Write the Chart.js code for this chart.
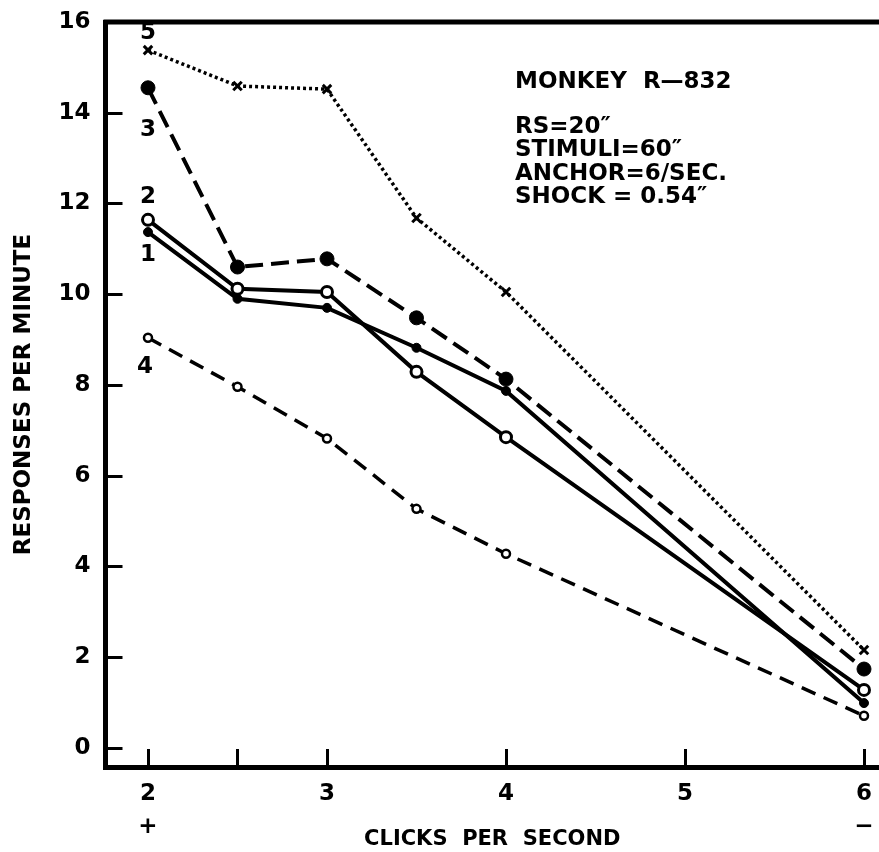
<!DOCTYPE html>
<html>
<head>
<meta charset="utf-8">
<title>Monkey R-832</title>
<script src="https://cdn.jsdelivr.net/npm/chart.js@4.4.1/dist/chart.umd.min.js"></script>
<style>
  html, body { margin: 0; padding: 0; background: #fff; }
  canvas { display: block; }
</style>
</head>
<body>
<canvas id="lineChart" width="879" height="852"></canvas>
<script>
const clicks = [2, 2.5, 3, 3.5, 4, 6];
const curve1 = [11.37, 9.9, 9.7, 8.82, 7.87, 0.99];
const curve2 = [11.64, 10.12, 10.05, 8.29, 6.85, 1.28];
const curve3 = [14.55, 10.6, 10.78, 9.48, 8.13, 1.74];
const curve4 = [9.04, 7.96, 6.82, 5.27, 4.28, 0.71];
const curve5 = [15.38, 14.59, 14.52, 11.68, 10.05, 2.16];

const yTicks = [0, 2, 4, 6, 8, 10, 12, 14, 16];
const xTicks = [2, 3, 4, 5, 6];
const xMarks = [2, 2.5, 3, 4, 5, 6];
const notes = ['RS=20″', 'STIMULI=60″', 'ANCHOR=6/SEC.', 'SHOCK = 0.54″'];

const FONT = "'DejaVu Sans', sans-serif";
const pts = ys => ys.map((y, i) => ({ x: clicks[i], y }));

// number written next to the first point of each curve
const tagOffsets = { '5': [0, -17], '3': [0, 42], '2': [0, -23], '1': [0, 23], '4': [-3, 29] };

const frame = {
  id: 'frame',
  afterDatasetsDraw(chart) {
    const { ctx, chartArea: a, scales: { x, y } } = chart;
    ctx.save();
    ctx.strokeStyle = '#000';
    ctx.fillStyle = '#000';

    // heavy top rule
    ctx.lineWidth = 5;
    ctx.beginPath();
    ctx.moveTo(a.left - 2, a.top);
    ctx.lineTo(chart.width, a.top);
    ctx.stroke();

    // ticks point inward
    ctx.lineWidth = 3;
    ctx.beginPath();
    yTicks.forEach(v => {
      const py = Math.round(y.getPixelForValue(v)) + 0.5;
      ctx.moveTo(a.left, py);
      ctx.lineTo(a.left + 17, py);
    });
    xMarks.forEach(v => {
      const px = Math.round(x.getPixelForValue(v)) + 0.5;
      ctx.moveTo(px, a.bottom);
      ctx.lineTo(px, a.bottom - 18);
    });
    ctx.stroke();

    ctx.font = 'bold 23px ' + FONT;
    ctx.textAlign = 'center';
    ctx.textBaseline = 'middle';
    chart.data.datasets.forEach((ds, i) => {
      const p = chart.getDatasetMeta(i).data[0];
      const [dx, dy] = tagOffsets[ds.label];
      ctx.fillText(ds.label, p.x + dx, p.y + dy);
    });

    ctx.textAlign = 'left';
    ctx.fillText('MONKEY  R—832', 515, 82);
    notes.forEach((t, i) => ctx.fillText(t, 515, 127 + i * 23.5));
    ctx.restore();
  }
};

new Chart(document.getElementById('lineChart'), {
  type: 'line',
  data: {
    datasets: [
      {
        label: '5',
        data: pts(curve5),
        borderColor: '#000',
        borderWidth: 3.5,
        borderDash: [3, 3],
        pointStyle: 'crossRot',
        pointRadius: 6,
        pointBorderWidth: 3,
        pointBorderColor: '#000',
      },
      {
        label: '3',
        data: pts(curve3),
        borderColor: '#000',
        borderWidth: 4,
        borderDash: [18, 8],
        pointRadius: 7,
        pointBorderWidth: 1,
        pointBorderColor: '#000',
        pointBackgroundColor: '#000',
      },
      {
        label: '2',
        data: pts(curve2),
        borderColor: '#000',
        borderWidth: 4,
        pointRadius: 5.5,
        pointBorderWidth: 3,
        pointBorderColor: '#000',
        pointBackgroundColor: '#fff',
      },
      {
        label: '1',
        data: pts(curve1),
        borderColor: '#000',
        borderWidth: 4,
        pointRadius: 4.5,
        pointBorderWidth: 1,
        pointBorderColor: '#000',
        pointBackgroundColor: '#000',
      },
      {
        label: '4',
        data: pts(curve4),
        borderColor: '#000',
        borderWidth: 3.5,
        borderDash: [15, 9],
        pointRadius: 4,
        pointBorderWidth: 2.5,
        pointBorderColor: '#000',
        pointBackgroundColor: '#fff',
      },
    ],
  },
  options: {
    responsive: false,
    animation: false,
    tension: 0,
    layout: {
      autoPadding: false,
      padding: { top: 22, left: 0, right: 0, bottom: 0 },
    },
    scales: {
      x: {
        type: 'linear',
        min: 1.7626,
        max: 6.0838,
        afterBuildTicks: s => { s.ticks = xTicks.map(v => ({ value: v })); },
        afterFit: s => { s.height = 85; s.paddingLeft = 0; s.paddingRight = 0; },
        grid: { display: false, drawTicks: false },
        border: { display: true, color: '#000', width: 5 },
        ticks: {
          color: '#000',
          padding: 10,
          maxRotation: 0,
          autoSkip: false,
          font: { family: FONT, size: 23, weight: 'bold', lineHeight: 1.45 },
          callback: v => (v === 2 ? ['2', '+'] : v === 6 ? ['6', '−'] : String(v)),
        },
        title: {
          display: true,
          text: 'CLICKS  PER  SECOND',
          color: '#000',
          padding: { top: 0, bottom: 0 },
          font: { family: FONT, size: 21, weight: 'bold' },
        },
      },
      y: {
        min: -0.419,
        max: 16,
        afterBuildTicks: s => { s.ticks = yTicks.map(v => ({ value: v })); },
        afterFit: s => { s.width = 105.5; s.paddingTop = 0; s.paddingBottom = 0; },
        grid: { display: false, drawTicks: false },
        border: { display: true, color: '#000', width: 5 },
        ticks: {
          color: '#000',
          padding: 15,
          font: { family: FONT, size: 23, weight: 'bold' },
        },
        title: {
          display: true,
          text: 'RESPONSES PER MINUTE',
          color: '#000',
          padding: { top: 10, bottom: 0 },
          font: { family: FONT, size: 23, weight: 'bold' },
        },
      },
    },
    plugins: {
      legend: { display: false },
      tooltip: { enabled: false },
    },
  },
  plugins: [frame],
});
</script>
</body>
</html>
